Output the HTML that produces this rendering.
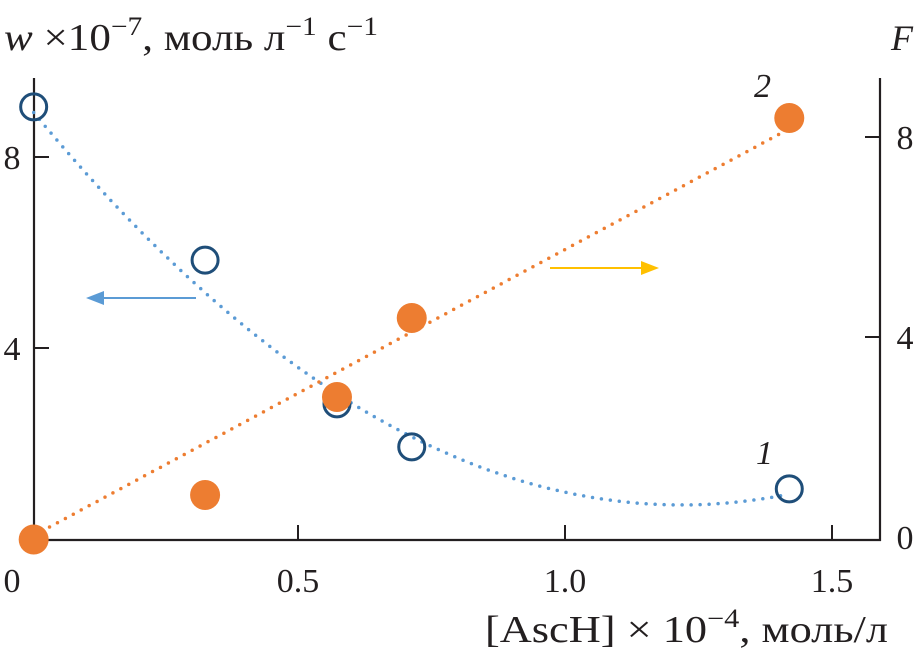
<!DOCTYPE html>
<html><head><meta charset="utf-8"><style>
body{margin:0;background:#fff}
svg text{font-family:"Liberation Serif",serif;fill:#231f20}
</style></head><body>
<svg width="917" height="653" viewBox="0 0 917 653">
<g id="axes" stroke="#231f20" stroke-width="2.2" fill="none">
<line x1="34" y1="78" x2="34" y2="541"/>
<line x1="880" y1="78" x2="880" y2="541"/>
<line x1="33" y1="540" x2="881" y2="540"/>
</g>
<g id="ticks"></g>
<g id="marks"></g>
<text x="4" y="50" font-size="38" textLength="374" lengthAdjust="spacingAndGlyphs"><tspan font-style="italic">w</tspan> ×10<tspan dy="-15" font-size="26">−7</tspan><tspan dy="15">, моль л</tspan><tspan dy="-15" font-size="26">−1</tspan><tspan dy="15"> с</tspan><tspan dy="-15" font-size="26">−1</tspan></text>
<text x="891" y="50" font-size="36" font-style="italic">F</text>
<text x="485" y="642" font-size="38" textLength="403" lengthAdjust="spacingAndGlyphs">[AscH] × 10<tspan dy="-15" font-size="26">−4</tspan><tspan dy="15">, моль/л</tspan></text>
<text x="754" y="97" font-size="34" font-style="italic">2</text>
<text x="756" y="464" font-size="34" font-style="italic">1</text>
<g>
<line x1="196" y1="298" x2="100" y2="298" stroke="#5b9bd5" stroke-width="2"/>
<polygon points="86,298 104,291 104,305" fill="#5b9bd5"/>
</g>
<g>
<line x1="550" y1="268" x2="645" y2="268" stroke="#ffc000" stroke-width="2"/>
<polygon points="659,268 641,261 641,275" fill="#ffc000"/>
</g>
</svg>
<script>
const xVals=[0.005,0.326,0.573,0.713,1.42];
const wVals=[9.05,5.84,2.83,1.93,1.05];
const fVals=[-0.05,0.84,2.8,4.38,8.38];
const xTicks=[0,0.5,1.0,1.5];
const xTickLabels=["0","0.5","1.0","1.5"];
const wTicks=[4,8];
const fTicks=[0,4,8];
const wFit=[9.0,-13.6,5.58];
const fFit=[0,5.75];
const ns="http://www.w3.org/2000/svg";
const X=v=>31+534*v, YL=v=>539-47.75*v, YR=v=>537-50*v;
function mk(t,a,p){const e=document.createElementNS(ns,t);for(const k in a)e.setAttribute(k,a[k]);p.appendChild(e);return e;}
const tk=document.getElementById('ticks'),mg=document.getElementById('marks');
xTicks.forEach((v,i)=>{
 if(v>0){const l=mk('line',{x1:X(v),x2:X(v),y1:540,y2:525,stroke:'#231f20','stroke-width':2},tk);
 
 }
 const t=mk('text',{x:v==0?12:X(v),y:592,'font-size':34,'text-anchor':'middle'},tk);t.textContent=xTickLabels[i];
 
 
});
wTicks.forEach(v=>{
 const l=mk('line',{x1:34,x2:49,y1:YL(v),y2:YL(v),stroke:'#231f20','stroke-width':2},tk);
 
 
 const t=mk('text',{x:12,y:YL(v)+12,'font-size':34,'text-anchor':'middle'},tk);t.textContent=v;
 
 
});
fTicks.forEach(v=>{
 if(v>0){const l=mk('line',{x1:865,x2:880,y1:YR(v),y2:YR(v),stroke:'#231f20','stroke-width':2},tk);
 
 }
 const t=mk('text',{x:905,y:YR(v)+12,'font-size':34,'text-anchor':'middle'},tk);t.textContent=v;
 
 
});
let p1='',p2='';
for(let i=0;i<=60;i++){const x=0.005+(1.42-0.005)*i/60;
 const w=wFit[0]+wFit[1]*x+wFit[2]*x*x, f=fFit[0]+fFit[1]*x;
 p1+=(i?'L':'M')+X(x).toFixed(1)+','+YL(w).toFixed(1);
 p2+=(i?'L':'M')+X(x).toFixed(1)+','+YR(f).toFixed(1);}
const c1=mk('path',{d:p1,fill:'none',stroke:'#5b9bd5','stroke-width':3.5,'stroke-linecap':'round','stroke-dasharray':'0 9'},mg);


const c2=mk('path',{d:p2,fill:'none',stroke:'#ed7d31','stroke-width':3.5,'stroke-linecap':'round','stroke-dasharray':'0 9'},mg);


xVals.forEach((x,i)=>{
 const c=mk('circle',{cx:X(x),cy:YL(wVals[i]),r:13,fill:'none',stroke:'#1f4e79','stroke-width':3},mg);
 
 
});
xVals.forEach((x,i)=>{
 const c=mk('circle',{cx:X(x),cy:YR(fVals[i]),r:15,fill:'#ed7d31'},mg);
 
 
});
</script>
</body></html>
